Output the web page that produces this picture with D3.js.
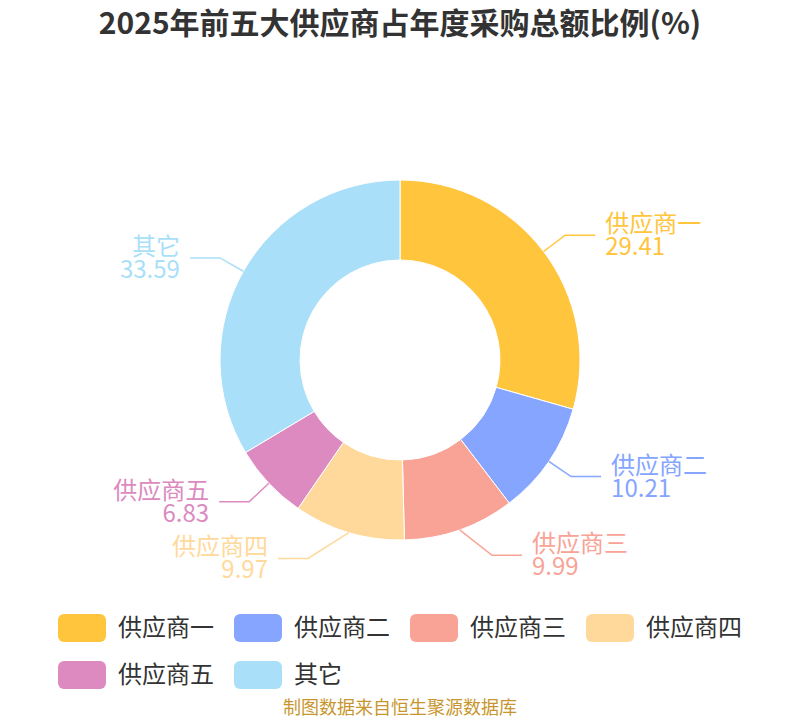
<!DOCTYPE html>
<html>
<head>
<meta charset="utf-8">
<script src="https://cdn.jsdelivr.net/npm/d3@7"></script>
<style>
  body { margin: 0; background: #fff; }
  text { font-family: "Noto Sans CJK SC", "Noto Sans", sans-serif; }
</style>
</head>
<body>
<div id="chart-area"></div>
<script>
// data
var names = ["供应商一", "供应商二", "供应商三", "供应商四", "供应商五", "其它"];
var values = [29.41, 10.21, 9.99, 9.97, 6.83, 33.59];
var colors = ["#ffc53d", "#85a5ff", "#f9a396", "#ffd99b", "#dc8ac0", "#a9dff9"];

var width = 800, height = 720;
var cx = 400, cy = 360;
var outerR = 180, innerR = 100;
var len1 = 27, len2 = 30, minDx = 92;

var svg = d3.select("#chart-area")
	.append("svg")
		.attr("width", width)
		.attr("height", height);

// title
svg.append("text")
	.attr("x", width / 2)
	.attr("y", 34)
	.attr("text-anchor", "middle")
	.attr("font-size", "30px")
	.attr("font-weight", "bold")
	.attr("fill", "#333")
	.text("2025年前五大供应商占年度采购总额比例(%)");

var data = names.map((n, i) => ({name: n, value: values[i], color: colors[i]}));

var pie = d3.pie()
	.sort(null)
	.value(d => d.value);

var arc = d3.arc()
	.innerRadius(innerR)
	.outerRadius(outerR);

var g = svg.append("g")
	.attr("transform", `translate(${cx}, ${cy})`);

var arcs = pie(data);

g.selectAll("path")
	.data(arcs)
	.enter()
	.append("path")
		.attr("d", arc)
		.attr("fill", d => d.data.color)
		.attr("stroke", "#fff")
		.attr("stroke-width", 1);

// leader lines + labels
arcs.forEach(d => {
	var a = (d.startAngle + d.endAngle) / 2;
	var sx = Math.sin(a), sy = -Math.cos(a);
	var right = sx >= 0;
	var p0 = [sx * outerR, sy * outerR];
	var dx = sx * (outerR + len1);
	// keep bottom labels clear of the ring
	if (Math.abs(dx) < minDx) dx = right ? minDx : -minDx;
	var p1 = [dx, sy * (outerR + len1)];
	var p2 = [p1[0] + (right ? len2 : -len2), p1[1]];

	g.append("polyline")
		.attr("points", [p0, p1, p2].map(p => p.join(",")).join(" "))
		.attr("fill", "none")
		.attr("stroke", d.data.color)
		.attr("stroke-width", 1.5);

	var tx = p2[0] + (right ? 10 : -10);
	var t = g.append("text")
		.attr("text-anchor", right ? "start" : "end")
		.attr("font-size", "24px")
		.attr("fill", d.data.color);
	t.append("tspan")
		.attr("x", tx)
		.attr("y", p2[1] - 3)
		.text(d.data.name);
	t.append("tspan")
		.attr("x", tx)
		.attr("y", p2[1] + 20)
		.text(d.data.value.toFixed(2));
});

// legend
var boxW = 48, boxH = 28, textGap = 12, itemGap = 20, maxRowW = 700;
var legend = svg.append("g");
var items = data.map(d => {
	var it = legend.append("g");
	it.append("rect")
		.attr("width", boxW)
		.attr("height", boxH)
		.attr("rx", 6)
		.attr("fill", d.color);
	var tt = it.append("text")
		.attr("x", boxW + textGap)
		.attr("y", boxH / 2)
		.attr("dy", "0.35em")
		.attr("font-size", "24px")
		.attr("fill", "#333")
		.text(d.name);
	return {g: it, w: boxW + textGap + tt.node().getComputedTextLength()};
});

var rows = [[]], rowW = [0];
items.forEach(it => {
	var r = rows.length - 1;
	var add = (rows[r].length ? itemGap : 0) + it.w;
	if (rows[r].length && rowW[r] + add > maxRowW) {
		rows.push([it]);
		rowW.push(it.w);
	} else {
		rows[r].push(it);
		rowW[r] += add;
	}
});
var blockW = d3.max(rowW);
var left = (width - blockW) / 2;
rows.forEach((row, ri) => {
	var x = left;
	row.forEach(it => {
		it.g.attr("transform", `translate(${x}, ${614 + ri * 47})`);
		x += it.w + itemGap;
	});
});

// source
svg.append("text")
	.attr("x", width / 2)
	.attr("y", 714)
	.attr("text-anchor", "middle")
	.attr("font-size", "18px")
	.attr("fill", "#c8962e")
	.text("制图数据来自恒生聚源数据库");
</script>
</body>
</html>
